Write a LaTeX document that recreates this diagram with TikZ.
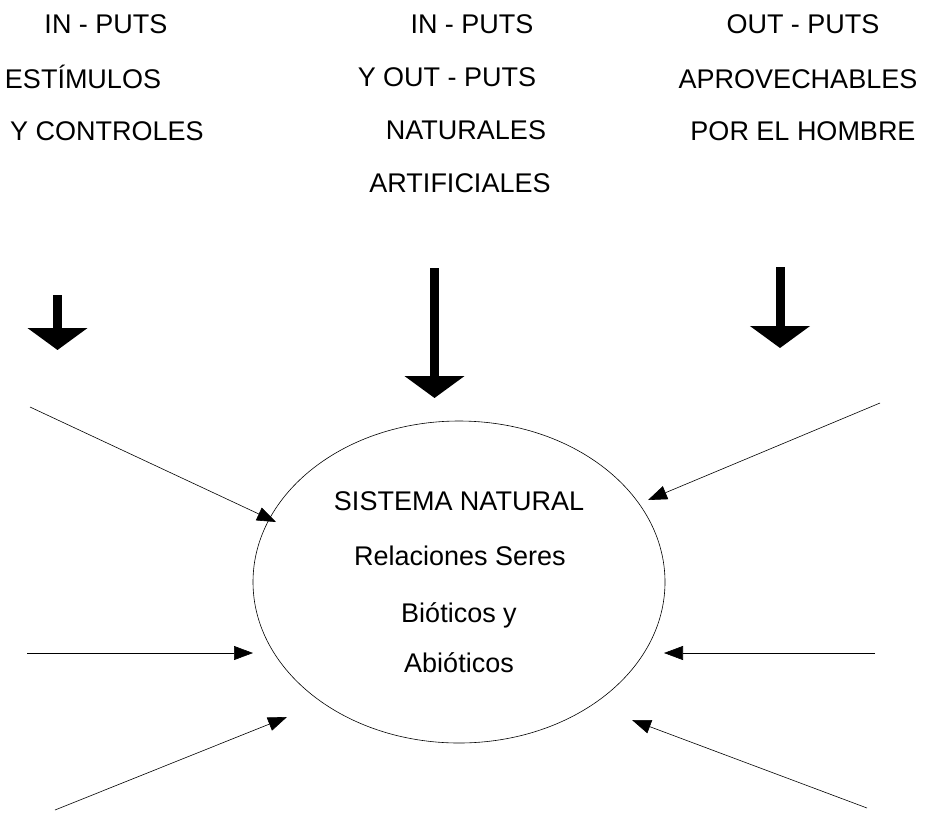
\documentclass[tikz,border=0pt]{standalone}
\usepackage{fontspec}
\setmainfont{Liberation Sans}
\usetikzlibrary{arrows.meta,shapes.geometric}

\tikzset{
  lbl/.style={anchor=base,inner sep=0pt,font=\fontsize{27}{31}\selectfont},
  bigarrow/.style={line width=9pt,-{Triangle[length=22pt,width=59pt]}},
  thinarrow/.style={line width=0.6pt,-{Triangle[length=19pt,width=14pt]}},
}

\begin{document}
\begin{tikzpicture}[x=1pt,y=-1pt]
    \useasboundingbox (0,0) rectangle (928,817);

    % column labels
    \node[lbl] (c1a) at (106,33)  {IN - PUTS};
    \node[lbl] (c1b) at (83,88)   {ESTÍMULOS};
    \node[lbl] (c1c) at (107,140) {Y CONTROLES};

    \node[lbl] (c2a) at (472,33)  {IN - PUTS};
    \node[lbl] (c2b) at (447,86)  {Y OUT - PUTS};
    \node[lbl] (c2c) at (466,139) {NATURALES};
    \node[lbl] (c2d) at (460,192) {ARTIFICIALES};

    \node[lbl] (c3a) at (803,33)  {OUT - PUTS};
    \node[lbl] (c3b) at (798,88)  {APROVECHABLES};
    \node[lbl] (c3c) at (803,140) {POR EL HOMBRE};

    % big arrows
    \coordinate (b1s) at (57.5,295);  \coordinate (b1e) at (57.5,350);
    \coordinate (b2s) at (434.5,268); \coordinate (b2e) at (434.5,398);
    \coordinate (b3s) at (780,267);   \coordinate (b3e) at (780,348);
    \draw[bigarrow] (b1s) -- (b1e);
    \draw[bigarrow] (b2s) -- (b2e);
    \draw[bigarrow] (b3s) -- (b3e);

    % the system
    \node[draw,ellipse,line width=0.6pt,minimum width=412pt,minimum height=322pt,
          inner sep=0pt] (sys) at (459,582) {};
    \node[lbl] (s1) at (459,510) {SISTEMA NATURAL};
    \node[lbl] (s2) at (460,565) {Relaciones Seres};
    \node[lbl] (s3) at (459,622) {Bióticos y};
    \node[lbl] (s4) at (459,672) {Abióticos};

    % thin arrows
    \coordinate (ul) at (30,407);  \coordinate (ult) at (276,522);
    \coordinate (ml) at (27,653);  \coordinate (mlt) at (253,653);
    \coordinate (ll) at (55,810);  \coordinate (llt) at (287,717);
    \coordinate (ur) at (880,403); \coordinate (urt) at (648,500);
    \coordinate (mr) at (875,653); \coordinate (mrt) at (664,653);
    \coordinate (lr) at (867,808); \coordinate (lrt) at (632,720);
    \draw[thinarrow] (ul) -- (ult);
    \draw[thinarrow] (ml) -- (mlt);
    \draw[thinarrow] (ll) -- (llt);
    \draw[thinarrow] (ur) -- (urt);
    \draw[thinarrow] (mr) -- (mrt);
    \draw[thinarrow] (lr) -- (lrt);
\end{tikzpicture}
\end{document}
